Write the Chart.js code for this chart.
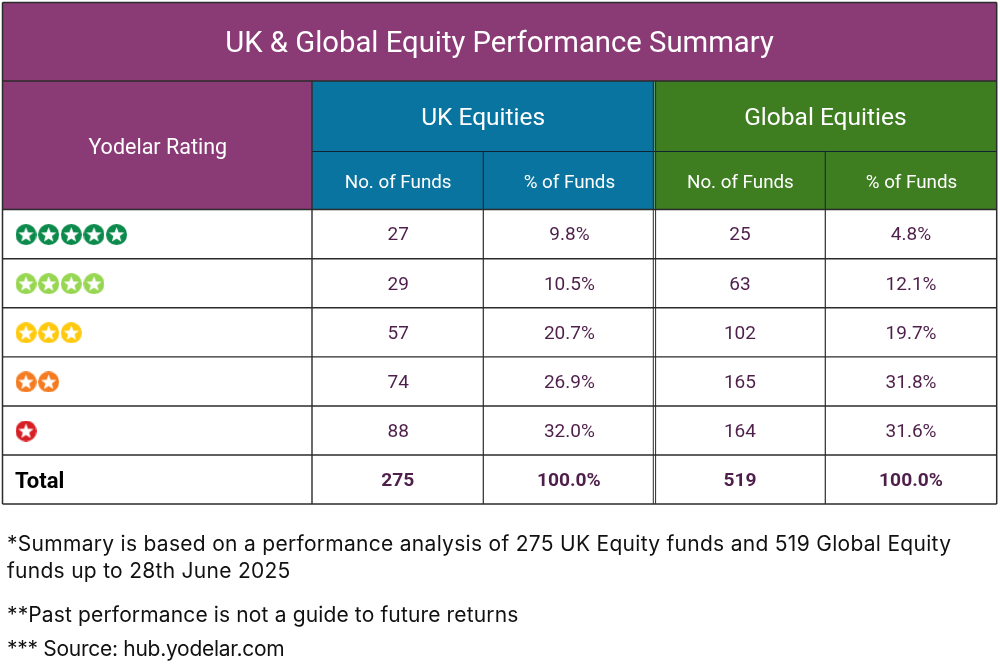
<!DOCTYPE html>
<html>
<head>
<meta charset="utf-8">
<title>UK & Global Equity Performance Summary</title>
<script src="https://cdn.jsdelivr.net/npm/chart.js@4"></script>
<style>
	html, body { margin: 0; padding: 0; background: #fff; }
	canvas { display: block; }
</style>
</head>
<body>
<canvas id="table-chart" width="1000" height="665"></canvas>
<script>
	// table content
	const titleText = 'UK & Global Equity Performance Summary';
	const ratingHeader = 'Yodelar Rating';
	const groupHeaders = ['UK Equities', 'Global Equities'];
	const subHeaders = ['No. of Funds', '% of Funds', 'No. of Funds', '% of Funds'];
	const ratingStars = [5, 4, 3, 2, 1];
	const ukFunds = [27, 29, 57, 74, 88];
	const ukPercent = [9.8, 10.5, 20.7, 26.9, 32.0];
	const globalFunds = [25, 63, 102, 165, 164];
	const globalPercent = [4.8, 12.1, 19.7, 31.8, 31.6];
	const totalLabel = 'Total';
	const ukTotal = 275;
	const globalTotal = 519;
	const percentTotal = 100.0;
	const notes = [
		'*Summary is based on a performance analysis of 275 UK Equity funds and 519 Global Equity',
		'funds up to 28th June 2025',
		'**Past performance is not a guide to future returns',
		'*** Source: hub.yodelar.com'
	];

	// grid edges, in axis units
	const colEdges = [2.5, 312, 483.3, 654.5, 825.3, 996.7];
	const rowEdges = [2.5, 81, 151.5, 209.5, 258.7, 307.8, 356.9, 406, 455, 504];
	const noteRows = [545, 572, 616, 650];
	const noteSpacing = ['0.29px', '0.28px', '0.14px', '-0.28px'];
	const noteLeft = 7;
	const starLeft = 26;
	const starStep = 22.65;

	const PURPLE = '#8a3b76', BLUE = '#09749f', GREEN = '#3e7d20', INK = '#4e1f4a', LINE = '#2b2b2b';
	const starColors = ['#0b8a4b', '#96d650', '#ffc90e', '#f47b20', '#d71f26'];

	function star_badge(color) {
		let c = document.createElement('canvas');
		let size = 21;
		c.width = size; c.height = size;
		let g = c.getContext('2d');
		g.fillStyle = color;
		g.beginPath();
		g.arc(size / 2, size / 2, size / 2, 0, Math.PI * 2);
		g.fill();
		g.fillStyle = '#fff';
		g.beginPath();
		for (let i = 0; i < 10; i++) {
			let r = i % 2 ? 3.4 : 8;
			let a = -Math.PI / 2 + i * Math.PI / 5;
			g.lineTo(size / 2 + r * Math.cos(a), size / 2 + 0.5 + r * Math.sin(a));
		}
		g.closePath();
		g.fill();
		return c;
	}

	function mid(edges, i) { return (edges[i] + edges[i + 1]) / 2; }

	let star_datasets = ratingStars.map((count, row) => {
		let pts = [];
		for (let n = 0; n < count; n++) {
			pts.push({ x: starLeft + n * starStep, y: mid(rowEdges, row + 3) + 0.5 });
		}
		return { data: pts, pointStyle: star_badge(starColors[row]), pointRadius: 10, showLine: false };
	});

	const tablePlugin = {
		id: 'tablePlugin',
		beforeDatasetsDraw(chart) {
			let ctx = chart.ctx;
			let xs = chart.scales.x, ys = chart.scales.y;
			let X = v => xs.getPixelForValue(v), Y = v => ys.getPixelForValue(v);

			function fill(x0, x1, y0, y1, color) {
				ctx.fillStyle = color;
				ctx.fillRect(X(x0), Y(y0), X(x1) - X(x0), Y(y1) - Y(y0));
			}
			function line(x0, y0, x1, y1, w, color) {
				ctx.strokeStyle = color || LINE;
				ctx.lineWidth = w || 1.3;
				ctx.beginPath();
				ctx.moveTo(X(x0), Y(y0));
				ctx.lineTo(X(x1), Y(y1));
				ctx.stroke();
			}
			function text(str, x, y, font, color, align, spacing) {
				ctx.font = font;
				ctx.fillStyle = color;
				ctx.textAlign = align || 'center';
				ctx.textBaseline = 'middle';
				ctx.letterSpacing = spacing || '0px';
				ctx.fillText(str, X(x), Y(y));
			}

			let left = colEdges[0], right = colEdges[5];
			let r = rowEdges;

			// header fills
			fill(left, right, r[0], r[1], PURPLE);
			fill(left, colEdges[1], r[1], r[3], PURPLE);
			fill(colEdges[1], colEdges[3], r[1], r[3], BLUE);
			fill(colEdges[3], right, r[1], r[3], GREEN);

			// grid
			line(left, r[0], right, r[0], 1.5);
			line(left, r[1], right, r[1], 1.5);
			line(colEdges[1], r[2], right, r[2], 1.2, '#123');
			r.slice(3).forEach(v => line(left, v, right, v, 1.4));
			line(left, r[0], left, r[9], 1.5);
			line(right, r[0], right, r[9], 1.5);
			line(colEdges[1], r[1], colEdges[1], r[9], 1.4);
			line(colEdges[2], r[2], colEdges[2], r[9], 1.2);
			line(colEdges[3] - 1.2, r[1], colEdges[3] - 1.2, r[9], 1);
			line(colEdges[3] + 1.1, r[1], colEdges[3] + 1.1, r[9], 1);
			line(colEdges[4], r[2], colEdges[4], r[9], 1.2);

			// headers
			text(titleText, 499.5, 45, '400 29.25px Roboto', '#fff');
			text(ratingHeader, mid(colEdges, 0) + 0.5, 148.5, '400 21.5px Roboto', '#fff');
			text(groupHeaders[0], mid(colEdges, 1) + 85.5, 118.5, '400 24.5px Roboto', '#fff');
			text(groupHeaders[1], mid(colEdges, 3) + 85.5, 118.5, '400 24.5px Roboto', '#fff');
			subHeaders.forEach((h, i) => {
				text(h, mid(colEdges, i + 1) + 0.5, 183, '400 18.8px Roboto', '#fff');
			});

			// values
			ratingStars.forEach((s, i) => {
				let y = mid(r, i + 3) + 1.5;
				text(String(ukFunds[i]), mid(colEdges, 1) + 0.5, y, '400 19px Roboto', INK);
				text(ukPercent[i].toFixed(1) + '%', mid(colEdges, 2) + 0.5, y, '400 19px Roboto', INK);
				text(String(globalFunds[i]), mid(colEdges, 3), y, '400 19px Roboto', INK);
				text(globalPercent[i].toFixed(1) + '%', mid(colEdges, 4), y, '400 19px Roboto', INK);
			});
			let ty = mid(r, 8) + 2;
			text(totalLabel, 15, ty + 0.5, '700 22px Roboto', '#000', 'left');
			text(String(ukTotal), mid(colEdges, 1), ty, '700 19.2px Roboto', INK);
			text(percentTotal.toFixed(1) + '%', mid(colEdges, 2), ty, '700 19.2px Roboto', INK);
			text(String(globalTotal), mid(colEdges, 3), ty, '700 19.2px Roboto', INK);
			text(percentTotal.toFixed(1) + '%', mid(colEdges, 4), ty, '700 19.2px Roboto', INK);

			// notes
			notes.forEach((n, i) => {
				text(n, noteLeft, noteRows[i], '400 21px Inter', '#111', 'left', noteSpacing[i]);
			});
			ctx.letterSpacing = '0px';
		}
	};

	new Chart(document.getElementById('table-chart'), {
		type: 'scatter',
		data: { datasets: star_datasets },
		options: {
			responsive: false,
			animation: false,
			devicePixelRatio: 1,
			layout: { padding: 0, autoPadding: false },
			plugins: { legend: { display: false }, tooltip: { enabled: false } },
			scales: {
				x: { type: 'linear', min: 0, max: 1000, display: false },
				y: { type: 'linear', min: 0, max: 665, reverse: true, display: false }
			}
		},
		plugins: [tablePlugin]
	});
</script>
</body>
</html>
